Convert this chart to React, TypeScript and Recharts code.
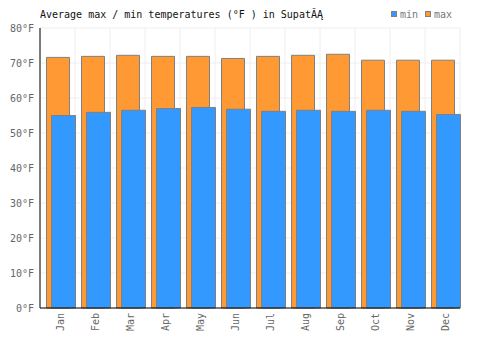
import React from "react";
import { BarChart, Bar, XAxis, YAxis, CartesianGrid, Rectangle } from "recharts";

const months = ["Jan", "Feb", "Mar", "Apr", "May", "Jun", "Jul", "Aug", "Sep", "Oct", "Nov", "Dec"];
const minTemps = [55.0, 55.9, 56.5, 57.0, 57.3, 56.8, 56.2, 56.5, 56.2, 56.5, 56.2, 55.3];
const maxTemps = [71.6, 71.9, 72.2, 71.9, 71.9, 71.3, 71.9, 72.2, 72.5, 70.8, 70.8, 70.8];
const yTicks = [0, 10, 20, 30, 40, 50, 60, 70, 80];
const title = "Average max / min temperatures (°F ) in SupatĂĄ";
const series = [
  { key: "min", name: "min", color: "#3399ff" },
  { key: "max", name: "max", color: "#ff9933" },
];

const data = months.map((m, i) => ({ month: m, min: minTemps[i], max: maxTemps[i] }));

const FONT = "'DejaVu Sans Mono', monospace";

const ShiftedBar = (props: any) => <Rectangle {...props} x={props.x + 3.5} />;

const XTick = (props: any) => {
  const { x, y, payload } = props;
  return (
    <text
      x={x}
      y={y}
      transform={`rotate(-90, ${x}, ${y})`}
      textAnchor="end"
      dy="0.6em"
      fill="#666"
      fontSize={10}
      fontFamily={FONT}
    >
      {payload.value}
    </text>
  );
};

const boundaries = (args: any) => {
  const { offset } = args;
  const step = offset.width / months.length;
  return Array.from({ length: months.length + 1 }, (_, k) => offset.left + k * step);
};

export default function App() {
  return (
    <div style={{ position: "absolute", left: 0, top: 0, width: 500, height: 350, overflow: "hidden" }}>
      <BarChart
        width={500}
        height={350}
        data={data}
        margin={{ top: 28, right: 40, bottom: 0, left: 0 }}
        barSize={23}
        barGap={-18}
      >
        <CartesianGrid stroke="#eeeeee" verticalCoordinatesGenerator={boundaries} />
        <XAxis
          dataKey="month"
          height={42}
          axisLine={{ stroke: "#000" }}
          tickLine={false}
          tickSize={0}
          tickMargin={5}
          interval={0}
          tick={<XTick />}
        />
        <YAxis
          width={40}
          domain={[0, 80]}
          ticks={yTicks}
          axisLine={{ stroke: "#000" }}
          tickLine={false}
          tickSize={0}
          tickMargin={6}
          tickFormatter={(v: number) => `${v}°F`}
          tick={{ fill: "#666", fontSize: 10, fontFamily: FONT }}
        />
        <Bar dataKey="max" name="max" fill="#ff9933" stroke="#808080" strokeWidth={1} isAnimationActive={false} shape={<ShiftedBar />} />
        <Bar dataKey="min" name="min" fill="#3399ff" stroke="#808080" strokeWidth={1} barSize={24} isAnimationActive={false} shape={<ShiftedBar />} />
      </BarChart>
      <svg width={500} height={30} style={{ position: "absolute", left: 0, top: 0, pointerEvents: "none" }}>
        <text x={40} y={18} fontSize={10} fontFamily={FONT} fill="#111">
          {title}
        </text>
        {series.map((s, i) => (
          <g key={s.key}>
            <rect x={391.5} y={11.5} width={5} height={5} fill={s.color} stroke="#808080" transform={`translate(${i * 34},0)`} />
            <text x={400 + i * 34} y={18} fontSize={10} fontFamily={FONT} fill="#777">
              {s.name}
            </text>
          </g>
        ))}
      </svg>
    </div>
  );
}
